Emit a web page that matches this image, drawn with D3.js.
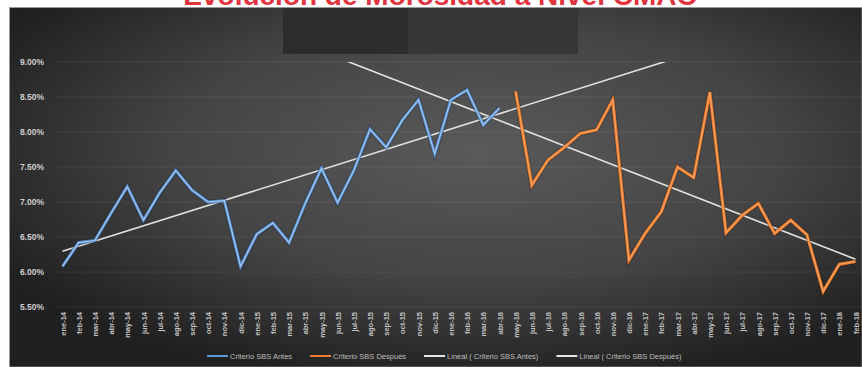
<!DOCTYPE html>
<html>
<head>
<meta charset="utf-8">
<script src="https://cdn.jsdelivr.net/npm/d3@7"></script>
<style>
  html, body { margin: 0; padding: 0; background: #ffffff; }
  svg { display: block; }
</style>
</head>
<body>
<svg id="chart" width="862" height="367"></svg>
<script>
// ---- data -------------------------------------------------------------
const title = "Evolución de Morosidad a Nivel CMAC";

const periods = [
  "ene-14","feb-14","mar-14","abr-14","may-14","jun-14","jul-14","ago-14","sep-14","oct-14","nov-14","dic-14",
  "ene-15","feb-15","mar-15","abr-15","may-15","jun-15","jul-15","ago-15","sep-15","oct-15","nov-15","dic-15",
  "ene-16","feb-16","mar-16","abr-16","may-16","jun-16","jul-16","ago-16","sep-16","oct-16","nov-16","dic-16",
  "ene-17","feb-17","mar-17","abr-17","may-17","jun-17","jul-17","ago-17","sep-17","oct-17","nov-17","dic-17",
  "ene-18","feb-18"
];

// Criterio SBS Antes: ene-14 .. abr-16 (%)
const antes = [
  6.08, 6.42, 6.45, 6.84, 7.22, 6.74, 7.13, 7.45, 7.17, 7.00, 7.02, 6.08,
  6.54, 6.70, 6.42, 6.98, 7.48, 6.99, 7.45, 8.04, 7.78, 8.17, 8.46, 7.69,
  8.46, 8.60, 8.10, 8.34
];

// Criterio SBS Después: may-16 .. feb-18 (%)
const despues = [
  8.58, 7.24, 7.60, 7.78, 7.98, 8.03, 8.46, 6.17,
  6.55, 6.86, 7.50, 7.35, 8.57, 6.56, 6.81, 6.98, 6.55, 6.74, 6.53, 5.72,
  6.11, 6.15
];

const yTicks = [5.5, 6.0, 6.5, 7.0, 7.5, 8.0, 8.5, 9.0];

const seriesNames = [
  "Criterio SBS Antes",
  "Criterio SBS Después",
  "Lineal ( Criterio SBS Antes)",
  "Lineal ( Criterio SBS Después)"
];

// ---- layout -----------------------------------------------------------
const W = 862, H = 367;
const svg = d3.select("#chart");
const FONT = "'Liberation Sans', Arial, sans-serif";

const x = d3.scalePoint().domain(periods).range([62.5, 855.5]);
const xi = d3.scaleLinear().domain([0, periods.length - 1]).range(x.range());
const y = d3.scaleLinear().domain([5.5, 9.0]).range([307, 62]);

const defs = svg.append("defs");
const grad = defs.append("radialGradient")
  .attr("id", "bg").attr("cx", "0.55").attr("cy", "0.40").attr("r", "0.65");
grad.append("stop").attr("offset", "0").attr("stop-color", "#5a5a5a");
grad.append("stop").attr("offset", "0.55").attr("stop-color", "#444444");
grad.append("stop").attr("offset", "1").attr("stop-color", "#202020");

defs.append("clipPath").attr("id", "plotClip")
  .append("rect").attr("x", 9).attr("y", y(9.0)).attr("width", W - 9).attr("height", H - y(9.0));

// page background and title strip
svg.append("rect").attr("width", W).attr("height", H).attr("fill", "#ffffff");
svg.append("text")
  .attr("x", 440).attr("y", 5)
  .attr("text-anchor", "middle")
  .attr("font-family", FONT).attr("font-weight", "bold").attr("font-size", 28)
  .attr("fill", "#e2343f")
  .text(title);

// chart area
svg.append("rect")
  .attr("x", 9.5).attr("y", 7.5).attr("width", W - 9.5).attr("height", H - 7.5)
  .attr("fill", "url(#bg)").attr("stroke", "#9a9a9a").attr("stroke-width", 0.8);

// dark header blocks
svg.append("rect").attr("x", 283).attr("y", 8).attr("width", 125).attr("height", 46).attr("fill", "#2c2c2c");
svg.append("rect").attr("x", 408).attr("y", 8).attr("width", 170).attr("height", 46).attr("fill", "#363636");

// gridlines
svg.append("g").selectAll("line").data(yTicks).join("line")
  .attr("x1", 56).attr("x2", W)
  .attr("y1", d => y(d)).attr("y2", d => y(d))
  .attr("stroke", "#ffffff").attr("stroke-opacity", 0.07).attr("stroke-width", 1);

// y axis
const yAxis = svg.append("g").attr("transform", "translate(47,0)")
  .call(d3.axisLeft(y).tickValues(yTicks).tickFormat(d => d.toFixed(2) + "%").tickSize(0).tickPadding(3));
yAxis.select(".domain").remove();
yAxis.selectAll("text")
  .attr("font-family", FONT).attr("font-size", 8.5).attr("font-weight", "bold")
  .attr("fill", "#cfcfcf");

// x axis (vertical labels)
const xAxis = svg.append("g").attr("transform", "translate(0,307)")
  .call(d3.axisBottom(x).tickSize(0));
xAxis.select(".domain").remove();
xAxis.selectAll("text")
  .attr("x", 0).attr("y", 0).attr("dy", "0.35em")
  .attr("transform", "translate(0,5) rotate(-90)")
  .attr("text-anchor", "end")
  .attr("font-family", FONT).attr("font-size", 7.5).attr("font-weight", "bold")
  .attr("fill", "#c4c4c4");

// least-squares trend over a series starting at a given period index
function fit(values) {
  const mx = d3.mean(values, (d, i) => i);
  const my = d3.mean(values);
  let sxy = 0, sxx = 0;
  values.forEach((v, i) => { sxy += (i - mx) * (v - my); sxx += (i - mx) * (i - mx); });
  const slope = sxy / sxx;
  return { slope, intercept: my - slope * mx };
}

const plot = svg.append("g").attr("clip-path", "url(#plotClip)");

// trend lines, extended and clipped at the 9.00% ceiling
const trends = [
  { values: antes, start: 0, from: 0, to: 45 },
  { values: despues, start: antes.length, from: -16, to: despues.length - 1 }
];
trends.forEach(t => {
  const f = fit(t.values);
  const pts = [t.from, t.to].map(k => [xi(t.start + k), y(f.intercept + f.slope * k)]);
  plot.append("path")
    .attr("d", d3.line()(pts))
    .attr("fill", "none").attr("stroke", "#e2e2e2").attr("stroke-width", 1.6);
});

// series lines
const series = [
  { values: antes, start: 0, outer: "#5389c9", inner: "#a9cbef" },
  { values: despues, start: antes.length, outer: "#e8772b", inner: "#f7a869" }
];
series.forEach(s => {
  const line = d3.line()
    .x((d, i) => x(periods[s.start + i]))
    .y(d => y(d));
  plot.append("path").attr("d", line(s.values))
    .attr("fill", "none").attr("stroke", "#000").attr("stroke-opacity", 0.22)
    .attr("stroke-width", 5).attr("stroke-linejoin", "miter");
  plot.append("path").attr("d", line(s.values))
    .attr("fill", "none").attr("stroke", s.outer)
    .attr("stroke-width", 3.2).attr("stroke-linejoin", "miter");
  plot.append("path").attr("d", line(s.values))
    .attr("fill", "none").attr("stroke", s.inner)
    .attr("stroke-width", 1.1).attr("stroke-linejoin", "miter");
});

// legend
const legendColors = ["#5b9bd5", "#ed7d31", "#e6e6e6", "#e6e6e6"];
const legend = svg.append("g").attr("transform", "translate(0,356)");
let lx = 207;
seriesNames.forEach((name, i) => {
  legend.append("line")
    .attr("x1", lx).attr("x2", lx + 21).attr("y1", 0).attr("y2", 0)
    .attr("stroke", legendColors[i]).attr("stroke-width", 2);
  const t = legend.append("text")
    .attr("x", lx + 23).attr("y", 0).attr("dy", "0.35em")
    .attr("font-family", FONT).attr("font-size", 7.5)
    .attr("fill", "#bdbdbd")
    .text(name);
  lx += 23 + t.node().getComputedTextLength() + 18;
});
</script>
</body>
</html>
